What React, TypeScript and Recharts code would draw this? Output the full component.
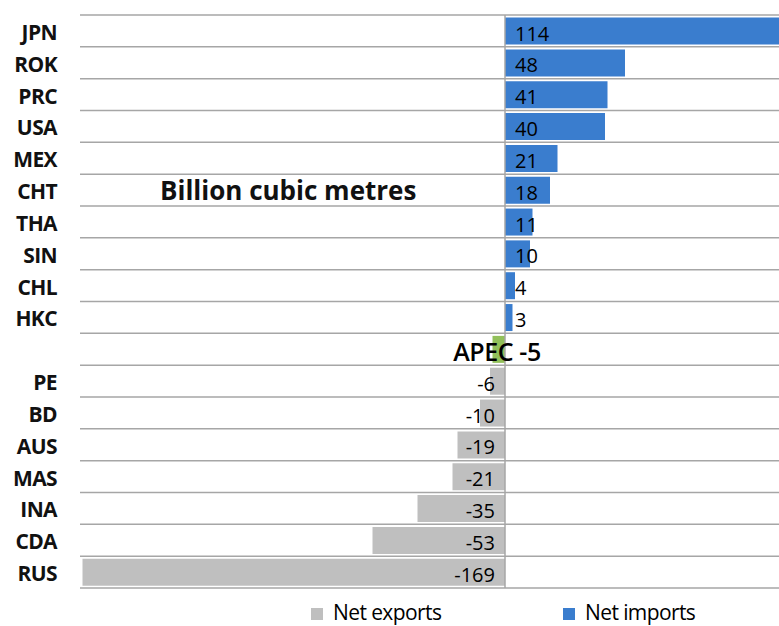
import React from "react";
import { BarChart, Bar, XAxis, YAxis, CartesianGrid, ReferenceLine, Cell, LabelList } from "recharts";

const categories = ["JPN", "ROK", "PRC", "USA", "MEX", "CHT", "THA", "SIN", "CHL", "HKC", "APEC", "PE", "BD", "AUS", "MAS", "INA", "CDA", "RUS"];
const values = [114, 48, 41, 40, 21, 18, 11, 10, 4, 3, -5, -6, -10, -19, -21, -35, -53, -169];
const axisTitle = "Billion cubic metres";
const legendItems = [
  { label: "Net exports", color: "#bfbfbf" },
  { label: "Net imports", color: "#3a7dce" },
];

const IMPORT_COLOR = "#3a7dce";
const EXPORT_COLOR = "#bfbfbf";
const APEC_COLOR = "#92c05a";
const FONT = "'Open Sans', 'Noto Sans', sans-serif";

const data = categories.map((name, i) => ({ name, value: values[i] }));

const ValueLabel = (props: any) => {
  const { x, y, width, height, value, index } = props;
  const name = categories[index];
  const cy = y + height / 2;
  const left = Math.min(x, x + width);
  const right = Math.max(x, x + width);
  if (name === "APEC") {
    return (
      <text x={right - 8} y={cy + 2} textAnchor="middle" dominantBaseline="central" fontSize={25} fontWeight={600} fill="#000" fontFamily={FONT} letterSpacing={-0.4}>
        {`APEC ${value}`}
      </text>
    );
  }
  if (value >= 0) {
    return (
      <text x={left + 10} y={cy + 2} textAnchor="start" dominantBaseline="central" fontSize={20} fontWeight={500} fill="#000" fontFamily={FONT}>
        {value}
      </text>
    );
  }
  return (
    <text x={right - 10} y={cy + 2} textAnchor="end" dominantBaseline="central" fontSize={20} fontWeight={500} fill="#000" fontFamily={FONT}>
      {value}
    </text>
  );
};

export default function App() {
  return (
    <div style={{ position: "absolute", left: 0, top: 0, width: 779, height: 626, overflow: "hidden", background: "#fff" }}>
      <BarChart
        width={810}
        height={626}
        data={data}
        layout="vertical"
        margin={{ top: 15, right: 5, bottom: 38, left: 0 }}
        barCategoryGap="8%"
      >
        <CartesianGrid
          vertical={false}
          stroke="#a6a6a6"
          strokeWidth={1.5}
          horizontalCoordinatesGenerator={({ offset }: any) =>
            Array.from({ length: categories.length + 1 }, (_, i) => offset.top + (i * offset.height) / categories.length)
          }
        />
        <XAxis type="number" domain={[-170, 120]} hide />
        <YAxis
          type="category"
          dataKey="name"
          width={80}
          axisLine={false}
          tickLine={false}
          tickSize={0}
          tickMargin={23}
          interval={0}
          tick={(p: any) =>
            p.payload.value === "APEC" ? (
              <g />
            ) : (
              <text x={p.x} y={p.y + 1} textAnchor="end" dominantBaseline="central" fontSize={21} fontWeight="bold" fill="#111" fontFamily={FONT} letterSpacing={-0.6}>
                {p.payload.value}
              </text>
            )
          }
        />
        <ReferenceLine x={0} stroke="#a6a6a6" strokeWidth={1.5} />
        <Bar dataKey="value" isAnimationActive={false}>
          {data.map((d, i) => (
            <Cell key={i} fill={d.name === "APEC" ? APEC_COLOR : d.value >= 0 ? IMPORT_COLOR : EXPORT_COLOR} />
          ))}
          <LabelList dataKey="value" content={ValueLabel} />
        </Bar>
        <text x={160} y={190} dominantBaseline="central" fontSize={26} fontWeight="bold" fill="#111" fontFamily={FONT} letterSpacing={0}>
          {axisTitle}
        </text>
      </BarChart>
      <div style={{ position: "absolute", left: 0, top: 600, width: 779, height: 26, fontFamily: FONT, fontSize: 21, color: "#000" }}>
        <div style={{ position: "absolute", left: 311, top: 8, width: 12, height: 12, background: legendItems[0].color }} />
        <div style={{ position: "absolute", left: 333, top: -2, whiteSpace: "nowrap", letterSpacing: -0.6, fontWeight: 500 }}>{legendItems[0].label}</div>
        <div style={{ position: "absolute", left: 563, top: 8, width: 12, height: 12, background: legendItems[1].color }} />
        <div style={{ position: "absolute", left: 585, top: -2, whiteSpace: "nowrap", letterSpacing: -0.6, fontWeight: 500 }}>{legendItems[1].label}</div>
      </div>
    </div>
  );
}
